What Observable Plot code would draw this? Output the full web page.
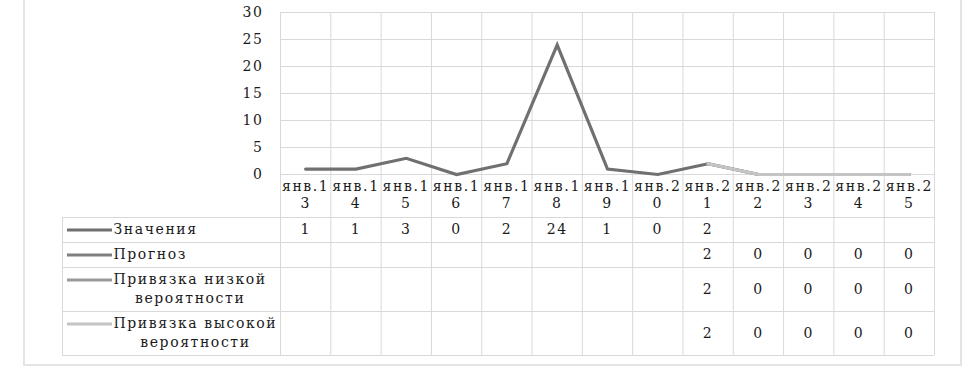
<!DOCTYPE html>
<html><head><meta charset="utf-8">
<script src="https://cdn.jsdelivr.net/npm/d3@7"></script>
<script src="https://cdn.jsdelivr.net/npm/@observablehq/plot@0.6"></script>
<style>
body{margin:0;background:#fff;}
#wrap{position:relative;width:975px;height:379px;overflow:hidden;background:#fff;}
#frame{position:absolute;left:23px;top:-4px;width:935px;height:366px;border:2px solid #e4e4e4;}
#wrap svg{position:absolute;left:0;}
</style></head><body>
<div id="wrap"><div id="frame"></div></div>
<script>
// ---- data ----
const categories = ["янв.13","янв.14","янв.15","янв.16","янв.17","янв.18","янв.19","янв.20","янв.21","янв.22","янв.23","янв.24","янв.25"];
const values    = [1, 1, 3, 0, 2, 24, 1, 0, 2, null, null, null, null];
const forecast  = [null, null, null, null, null, null, null, null, 2, 0, 0, 0, 0];
const lowBound  = [null, null, null, null, null, null, null, null, 2, 0, 0, 0, 0];
const highBound = [null, null, null, null, null, null, null, null, 2, 0, 0, 0, 0];
const seriesNames = [["Значения"], ["Прогноз"], ["Привязка низкой", "вероятности"], ["Привязка высокой", "вероятности"]];
const yTicks = [0, 5, 10, 15, 20, 25, 30];

// ---- style / layout ----
const COLORS = ["#707070", "#7f7f7f", "#9a9a9a", "#c4c4c4"];
const GRID = "#d9d9d9";
const INK = "#1a1a1a";
const FONT = "DejaVu Serif";
const FS = 14, LS = 1.6;
const W = 975, ML = 280, MR = 41;
const n = categories.length;
const series = [values, forecast, lowBound, highBound];
const pts = arr => arr.map((v, i) => ({x: i + 0.5, v})).filter(d => d.v != null);
const textStyle = {fontFamily: FONT, fontSize: FS + "px", color: INK, background: "transparent", letterSpacing: LS + "px", overflow: "visible"};

const chartH = 217, chartMB = 43;
const chart = Plot.plot({
  width: W, height: chartH, marginLeft: ML, marginRight: MR, marginTop: 12, marginBottom: chartMB,
  style: textStyle,
  x: {domain: [0, n], axis: null},
  y: {domain: [0, 30], ticks: yTicks, tickSize: 0, tickPadding: 17, label: null},
  marks: [
    Plot.ruleY(yTicks, {stroke: GRID, strokeOpacity: 1}),
    Plot.ruleX(d3.range(n + 1), {stroke: GRID, strokeOpacity: 1, insetBottom: -chartMB}),
    Plot.text(categories, {x: (d, i) => i + 0.5, text: d => d.slice(0, -1), frameAnchor: "bottom", dy: 16, fill: INK}),
    Plot.text(categories, {x: (d, i) => i + 0.5, text: d => d.slice(-1), frameAnchor: "bottom", dy: 33, fill: INK}),
    ...series.map((s, k) => Plot.line(pts(s), {x: "x", y: "v", stroke: COLORS[k], strokeWidth: 3.2, strokeLinejoin: "miter", strokeMiterlimit: 10}))
  ]
});
chart.style.top = "0px";

// ---- table ----
const lineH = 19, pad = 6;
const rowH = seriesNames.map(l => l.length * lineH + pad);
const rowTop = [0];
rowH.forEach((h, i) => rowTop.push(rowTop[i] + h));
const total = rowTop[rowTop.length - 1];
const unitPx = (W - ML - MR) / n;
const legendPx = 218;
const kx = legendPx / unitPx;
const tableH = 379 - chartH;

const ctx = document.createElement("canvas").getContext("2d");
ctx.font = `${FS}px '${FONT}'`;
const measure = s => ctx.measureText(s).width + LS * s.length;

const rows = seriesNames.map((lines, r) => {
  const c = rowTop[r] + rowH[r] / 2;
  return {r, lines, c, lineY: lines.map((_, j) => c + (j - (lines.length - 1) / 2) * lineH)};
});
const cells = [];
series.forEach((s, r) => s.forEach((v, i) => { if (v != null) cells.push({x: i + 0.5, y: rows[r].c, t: String(v)}); }));

const legendMarks = [];
rows.forEach(row => {
  legendMarks.push(Plot.ruleY([row], {y: d => d.lineY[0], x1: -kx, x2: -kx, insetLeft: 5, insetRight: -50, stroke: COLORS[row.r], strokeWidth: 3}));
  legendMarks.push(Plot.text([row], {x: -kx, y: d => d.lineY[0], text: d => d.lines[0], textAnchor: "start", dx: 51, fill: INK}));
  if (row.lines.length > 1) {
    const w1 = measure(row.lines[0]);
    legendMarks.push(Plot.text([row], {x: -kx, y: d => d.lineY[1], text: d => d.lines[1], textAnchor: "middle", dx: 51 + w1 / 2, fill: INK}));
  }
});

const table = Plot.plot({
  width: W, height: tableH, marginLeft: ML - legendPx, marginRight: MR, marginTop: 0, marginBottom: tableH - total,
  style: textStyle,
  x: {domain: [-kx, n], axis: null},
  y: {domain: [0, total], reverse: true, axis: null},
  marks: [
    Plot.ruleY(rowTop, {x1: -kx, x2: n, stroke: GRID, strokeOpacity: 1}),
    Plot.ruleX([-kx, ...d3.range(n + 1)], {y1: 0, y2: total, stroke: GRID, strokeOpacity: 1}),
    ...legendMarks,
    Plot.text(cells, {x: "x", y: "y", text: "t", fill: INK})
  ]
});
table.style.top = chartH + "px";

const wrap = document.getElementById("wrap");
wrap.appendChild(chart);
wrap.appendChild(table);
</script>
</body></html>
